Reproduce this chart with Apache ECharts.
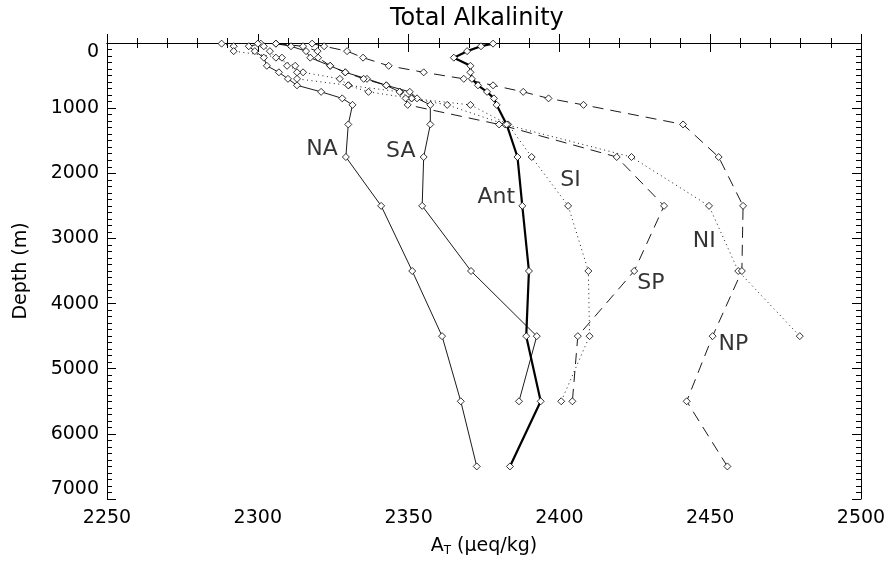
<!DOCTYPE html>
<html><head><meta charset="utf-8">
<script src="https://cdn.jsdelivr.net/npm/echarts@6/dist/echarts.min.js"></script>
<style>html,body{margin:0;padding:0;background:#fff}#c{width:893px;height:567px}</style>
</head><body><div id="c"></div>
<script>
const depths = [10,50,125,225,350,450,550,650,750,850,950,1250,1750,2500,3500,4500,5500,6500];
const NA  = [2301,2297,2299,2302,2303,2307,2310,2313,2321,2328,2331.4,2330,2329.2,2340.9,2351.2,2361.1,2367.3,2372.6];
const SA  = [2306,2311,2316,2317.4,2324,2329,2336.2,2342.6,2350.4,2352.8,2357.2,2357.2,2355,2354.5,2370.7,2392.5,2386.6];
const Ant = [2378,2374,2369.4,2365,2370.5,2370.5,2371,2373,2376,2378.3,2379.2,2382.5,2386.1,2387.7,2389.9,2389,2393.8,2383.6];
const SI  = [2288,2292,2292,2308,2309.7,2315,2327.2,2330.1,2347.3,2351,2370.5,2383,2390.8,2402.9,2409.6,2410,2400.6];
const NI  = [2300,2302,2304,2306,2312.4,2313,2313,2330,2336.7,2351,2362.8,2382,2423.9,2449.6,2459.3,2479.7];
const SP  = [2306,2315,2319.8,2320,2324,2329,2335.1,2342.6,2347,2349,2349.7,2380,2419,2434.7,2424.8,2406.1,2404.3];
const NP  = [2318,2322,2329.6,2334.9,2343.4,2355,2368.3,2378,2388,2396.4,2408,2441,2452.8,2460.9,2460.5,2450.8,2442.2,2455.7];
const labelNames = ['NA','SA','Ant','SI','NI','SP','NP'];
const labelX = [2321.3,2347.4,2379.1,2403.7,2448,2430.3,2457.7];
const labelY = [1630,1656,2376,2100,3051,3684,4630];

const FONT = 'DejaVu Sans, Liberation Sans, sans-serif';
const chart = echarts.init(document.getElementById('c'));
function mk(name, vals, type, width){
  return {
    name, type:'line', xAxisIndex:0, yAxisIndex:0,
    data: vals.map((v,i)=>[v, depths[i]]),
    symbol:'diamond', symbolSize:7,
    itemStyle:{color:'#fff', borderColor:'#000', borderWidth:0.8},
    lineStyle:{color:'#000', width:width, type:type},
    z: width>1?3:2, animation:false
  };
}
const dotted=[1,3.5], dashed=[11,7];
const lblStyle = {color:'#000', fontSize:19, fontFamily:FONT};
function axis(extra){
  return Object.assign({
    type:'value',
    axisLine:{lineStyle:{color:'#000',width:1}},
    splitLine:{show:false},
    axisTick:{inside:true,length:9,lineStyle:{color:'#000'}},
  }, extra);
}
chart.setOption({
  animation:false,
  title:{text:'Total Alkalinity', left:385, top:2, textStyle:{fontSize:24, fontWeight:'normal', color:'#000', fontFamily:FONT}},
  grid:{left:107, right:32, top:43, bottom:68},
  xAxis:[
    axis({position:'bottom', min:2250, max:2500, interval:50,
      minorTick:{show:true,splitNumber:5,length:5,lineStyle:{color:'#000'}},
      axisLabel:Object.assign({margin:10, formatter:v=>String(v)}, lblStyle),
      name:'{a|A}{s|T}{a| (μeq/kg)}', nameLocation:'middle', nameGap:36,
      nameTextStyle:{rich:{a:lblStyle, s:{color:'#000',fontSize:12,padding:[10,0,0,0],fontFamily:FONT}}}}),
    axis({position:'top', min:2250, max:2500, interval:50,
      minorTick:{show:true,splitNumber:5,length:5,lineStyle:{color:'#000'}},
      axisLabel:{show:false}})
  ],
  yAxis:[
    axis({position:'left', inverse:true, min:0, max:7000, interval:1000,
      minorTick:{show:true,splitNumber:10,length:5,lineStyle:{color:'#000'}},
      axisLabel:Object.assign({margin:8, formatter:v=>String(v), verticalAlignMinLabel:'top', verticalAlignMaxLabel:'bottom'}, lblStyle),
      name:'Depth (m)', nameLocation:'middle', nameGap:76, nameRotate:90, nameTextStyle:lblStyle}),
    axis({position:'right', inverse:true, min:0, max:7000, interval:1000,
      minorTick:{show:true,splitNumber:10,length:5,lineStyle:{color:'#000'}},
      axisLabel:{show:false}})
  ],
  series:[
    mk('NA',NA,'solid',0.9), mk('SA',SA,'solid',0.9), mk('Ant',Ant,'solid',2.2),
    mk('SI',SI,dotted,0.9), mk('NI',NI,dotted,0.9), mk('SP',SP,dashed,0.9), mk('NP',NP,dashed,0.9),
    {type:'scatter', symbolSize:0, data:labelNames.map((n,i)=>({name:n, value:[labelX[i], labelY[i]]})),
     label:{show:true, position:'inside', formatter:p=>p.name, color:'#000', fontSize:22, fontFamily:FONT}, z:5}
  ]
});
</script></body></html>
